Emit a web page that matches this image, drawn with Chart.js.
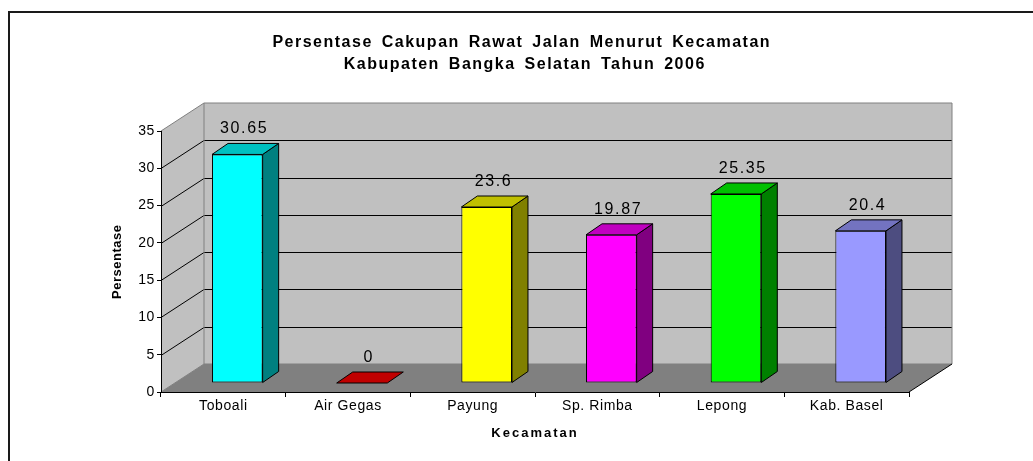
<!DOCTYPE html>
<html>
<head>
<meta charset="utf-8">
<title>Persentase Cakupan Rawat Jalan</title>
<script src="https://cdn.jsdelivr.net/npm/chart.js@4.4.1/dist/chart.umd.min.js"></script>
<style>
    html, body { margin: 0; padding: 0; background: #fff; }
    canvas { display: block; }
</style>
</head>
<body>
<canvas id="chart" width="1033" height="461"></canvas>
<script>
// Data
const categories = ['Toboali', 'Air Gegas', 'Payung', 'Sp. Rimba', 'Lepong', 'Kab. Basel'];
const persentase = [30.65, 0, 23.6, 19.87, 25.35, 20.4];
const yTickValues = [0, 5, 10, 15, 20, 25, 30, 35];
const titleLines = ['Persentase Cakupan Rawat Jalan Menurut Kecamatan', 'Kabupaten Bangka Selatan Tahun 2006'];
const xTitle = 'Kecamatan';
const yTitle = 'Persentase';

// Bar face colours (front, top, side)
const frontColors = ['#00ffff', '#ff0000', '#ffff00', '#ff00ff', '#00ff00', '#9999ff'];
const topColors = ['#00c0c0', '#c00000', '#c0c000', '#c000c0', '#00c000', '#7373c0'];
const sideColors = ['#008080', '#800000', '#808000', '#800080', '#008000', '#4d4d80'];

const FONT = "'Liberation Sans', Arial, sans-serif";

// 3D geometry of the plot box
const WALL_DX = 43, WALL_DY = -28;      // front plane -> back wall
const SHIFT_DX = 14, SHIFT_DY = -9;     // front plane -> bar front faces
const BAR_DX = 16, BAR_DY = -11;        // depth of each bar

function poly(ctx, pts, fill, stroke) {
    ctx.beginPath();
    ctx.moveTo(pts[0][0], pts[0][1]);
    for (let i = 1; i < pts.length; i++) ctx.lineTo(pts[i][0], pts[i][1]);
    ctx.closePath();
    if (fill) { ctx.fillStyle = fill; ctx.fill(); }
    if (stroke) { ctx.strokeStyle = stroke; ctx.lineWidth = 1; ctx.stroke(); }
}

function spacedText(ctx, text, x, y, font, spacing, wordGap) {
    ctx.save();
    ctx.font = font;
    ctx.letterSpacing = spacing + 'px';
    ctx.wordSpacing = (wordGap || 0) + 'px';
    ctx.fillStyle = '#000';
    ctx.textAlign = 'center';
    ctx.textBaseline = 'alphabetic';
    ctx.fillText(text, x + spacing / 2, y);
    ctx.restore();
}

// Walls, floor, grid lines and titles
const boxPlugin = {
    id: 'box3d',
    beforeDraw(chart) {
        const ctx = chart.ctx;
        const a = chart.chartArea;
        const yScale = chart.scales.y;
        ctx.save();
        ctx.fillStyle = '#fff';
        ctx.fillRect(0, 0, chart.width, chart.height);

        // outer frame (cropped Excel chart area)
        ctx.beginPath();
        ctx.moveTo(9, chart.height);
        ctx.lineTo(9, 12);
        ctx.lineTo(chart.width, 12);
        ctx.strokeStyle = '#1a1a1a';
        ctx.lineWidth = 2;
        ctx.stroke();

        const L = a.left, R = a.right, T = a.top, B = a.bottom;
        // back wall
        poly(ctx, [[L + WALL_DX, T + WALL_DY], [R + WALL_DX, T + WALL_DY], [R + WALL_DX, B + WALL_DY], [L + WALL_DX, B + WALL_DY]], '#c0c0c0');
        // left wall
        poly(ctx, [[L, T], [L + WALL_DX, T + WALL_DY], [L + WALL_DX, B + WALL_DY], [L, B]], '#c0c0c0');
        // floor
        poly(ctx, [[L, B], [L + WALL_DX, B + WALL_DY], [R + WALL_DX, B + WALL_DY], [R, B]], '#808080');

        // grid lines
        ctx.lineWidth = 1;
        yScale.ticks.forEach(t => {
            if (t.value === 0 || t.value === yScale.max) return;
            const py = Math.round(yScale.getPixelForValue(t.value)) + 0.5;
            ctx.beginPath();
            ctx.moveTo(L, py);
            ctx.lineTo(L + WALL_DX, py + WALL_DY);
            ctx.lineTo(R + WALL_DX, py + WALL_DY);
            ctx.strokeStyle = '#000';
            ctx.stroke();
        });

        // wall outlines
        ctx.beginPath();
        ctx.moveTo(L, T);
        ctx.lineTo(L + WALL_DX, T + WALL_DY);
        ctx.lineTo(R + WALL_DX, T + WALL_DY);
        ctx.lineTo(R + WALL_DX, B + WALL_DY);
        ctx.moveTo(L + WALL_DX, T + WALL_DY);
        ctx.lineTo(L + WALL_DX, B + WALL_DY);
        ctx.lineTo(R + WALL_DX, B + WALL_DY);
        ctx.moveTo(L, B);
        ctx.lineTo(L + WALL_DX, B + WALL_DY);
        ctx.strokeStyle = '#808080';
        ctx.stroke();

        ctx.beginPath();
        ctx.moveTo(R, B);
        ctx.lineTo(R + WALL_DX, B + WALL_DY);
        ctx.strokeStyle = '#000';
        ctx.stroke();
        ctx.restore();

        // titles
        spacedText(ctx, titleLines[0], 521, 47, 'bold 16px ' + FONT, 1.5, 3);
        spacedText(ctx, titleLines[1], 524, 69, 'bold 16px ' + FONT, 1.5, 3);
        spacedText(ctx, xTitle, 534, 437, 'bold 13px ' + FONT, 2);

        ctx.save();
        ctx.translate(121, 262);
        ctx.rotate(-Math.PI / 2);
        spacedText(ctx, yTitle, 0, 0, 'bold 13px ' + FONT, 0.5);
        ctx.restore();

        // spacing used by the axis tick labels
        ctx.letterSpacing = '0.6px';
    },
    beforeDatasetsDraw(chart) {
        chart.ctx.save();
        chart.ctx.translate(SHIFT_DX, SHIFT_DY);
    },
    afterDatasetsDraw(chart) {
        const ctx = chart.ctx;
        const meta = chart.getDatasetMeta(0);
        meta.data.forEach((bar, i) => {
            const p = bar.getProps(['x', 'y', 'base', 'width'], true);
            const x0 = p.x - p.width / 2, x1 = p.x + p.width / 2;
            // side face
            if (p.base - p.y > 0.5) {
                poly(ctx, [[x1, p.y], [x1 + BAR_DX, p.y + BAR_DY], [x1 + BAR_DX, p.base + BAR_DY], [x1, p.base]], sideColors[i], '#000');
            }
            // top face
            poly(ctx, [[x0, p.y], [x1, p.y], [x1 + BAR_DX, p.y + BAR_DY], [x0 + BAR_DX, p.y + BAR_DY]], topColors[i], '#000');
            // value label
            spacedText(ctx, String(persentase[i]), p.x + 6, p.y + BAR_DY - 10, '16px ' + FONT, 1.6);
        });
        ctx.restore();
    },
    afterDraw(chart) {
        chart.ctx.letterSpacing = '0px';
    }
};

Chart.defaults.font.family = FONT;
Chart.defaults.color = '#000';

new Chart(document.getElementById('chart'), {
    type: 'bar',
    data: {
        labels: categories,
        datasets: [{
            label: 'Persentase',
            data: persentase,
            backgroundColor: frontColors,
            borderColor: '#000',
            borderWidth: 1,
            borderSkipped: false,
            barPercentage: 0.406,
            categoryPercentage: 1
        }]
    },
    options: {
        responsive: false,
        animation: false,
        events: [],
        layout: { padding: { left: 0, top: 131, right: 124, bottom: 0 } },
        plugins: {
            legend: { display: false },
            tooltip: { enabled: false },
            title: { display: false }
        },
        scales: {
            x: {
                grid: { drawOnChartArea: false, tickLength: 5, color: '#000', offset: true },
                border: { color: '#000' },
                ticks: { color: '#000', font: { size: 14 }, padding: 1, maxRotation: 0, autoSkip: false },
                afterFit: s => { s.height = 69; }
            },
            y: {
                min: 0,
                max: 35,
                grid: { drawOnChartArea: false, tickLength: 4, color: '#000' },
                border: { color: '#000' },
                ticks: { color: '#000', font: { size: 14 }, padding: 2 },
                afterBuildTicks: s => { s.ticks = yTickValues.map(v => ({ value: v })); },
                afterFit: s => { s.width = 161; }
            }
        }
    },
    plugins: [boxPlugin]
});
</script>
</body>
</html>
